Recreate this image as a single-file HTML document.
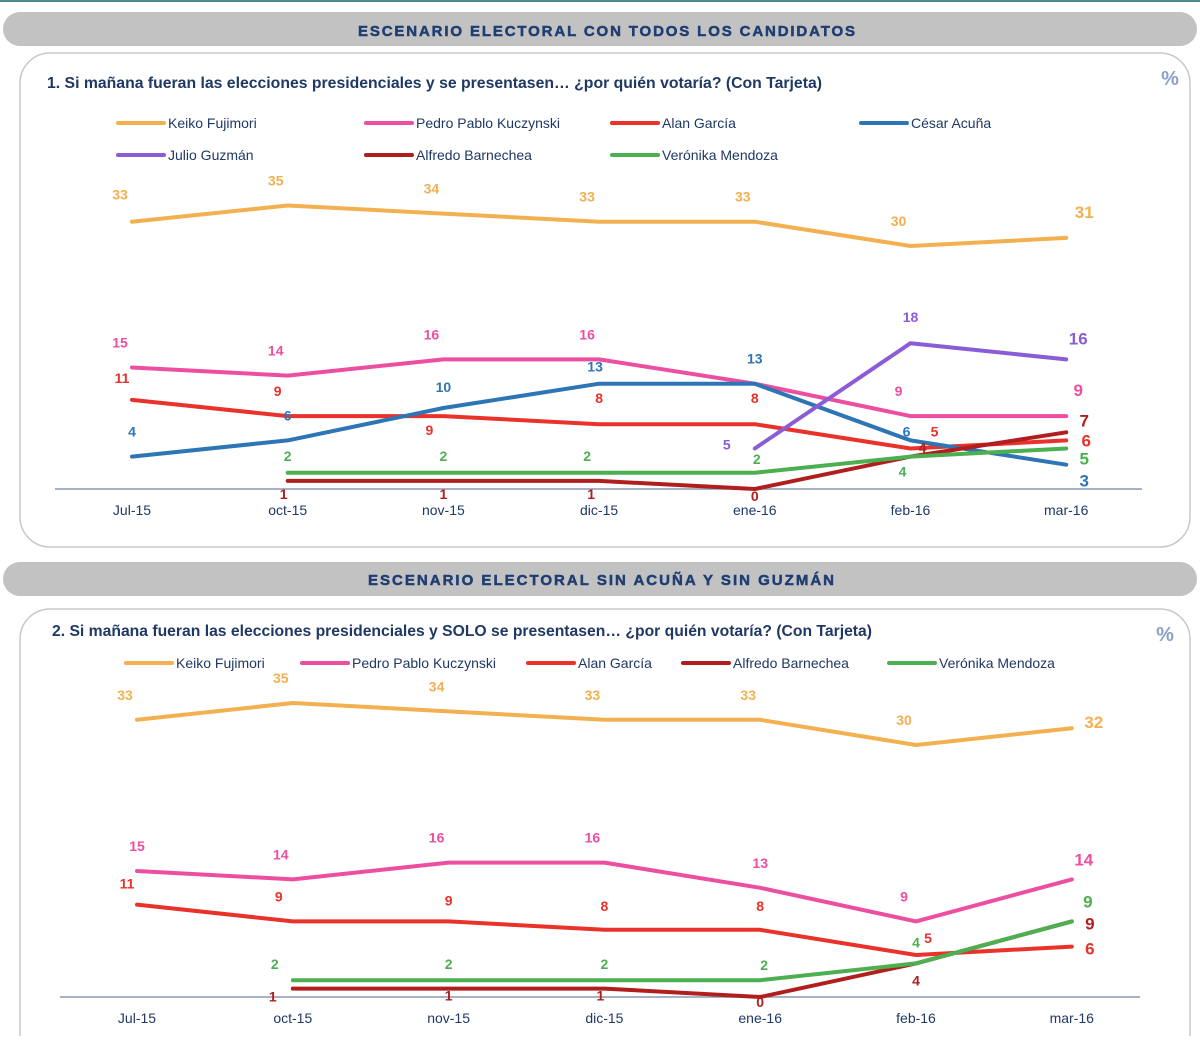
<!DOCTYPE html>
<html><head><meta charset="utf-8"><style>
body{margin:0;width:1200px;height:1036px;overflow:hidden;background:#fff;font-family:"Liberation Sans",sans-serif}
</style></head><body>
<svg width="1200" height="1036" xmlns="http://www.w3.org/2000/svg" font-family="Liberation Sans, sans-serif">
<rect x="0" y="0" width="1200" height="2" fill="#4a8a8a"/>
<rect x="3" y="12" width="1194" height="34" rx="17" fill="#c2c2c2"/>
<text x="358" y="36" textLength="497" lengthAdjust="spacing" font-size="15" font-weight="900" fill="#1f3e72" stroke="#1f3e72" stroke-width="0.5">ESCENARIO ELECTORAL CON TODOS LOS CANDIDATOS</text>
<rect x="20" y="53" width="1170" height="494" rx="30" fill="#fff" stroke="#c8c8c8" stroke-width="1.5"/>
<text x="47" y="88" textLength="775" lengthAdjust="spacingAndGlyphs" font-size="16" font-weight="bold" fill="#1f3864">1. Si mañana fueran las elecciones presidenciales y se presentasen… ¿por quién votaría? (Con Tarjeta)</text>
<text x="1170" y="85" text-anchor="middle" font-size="20" font-weight="bold" fill="#8aa0c8">%</text>
<rect x="3" y="562" width="1194" height="34" rx="17" fill="#c2c2c2"/>
<text x="368" y="585" textLength="466" lengthAdjust="spacing" font-size="15" font-weight="900" fill="#1f3e72" stroke="#1f3e72" stroke-width="0.5">ESCENARIO ELECTORAL SIN ACUÑA Y SIN GUZMÁN</text>
<rect x="20" y="609" width="1170" height="460" rx="30" fill="#fff" stroke="#c8c8c8" stroke-width="1.5"/>
<text x="52" y="636" textLength="820" lengthAdjust="spacingAndGlyphs" font-size="16" font-weight="bold" fill="#1f3864">2. Si mañana fueran las elecciones presidenciales y SOLO se presentasen… ¿por quién votaría? (Con Tarjeta)</text>
<text x="1165" y="641" text-anchor="middle" font-size="20" font-weight="bold" fill="#8aa0c8">%</text>
<g id="c1"></g><g id="c2"></g>
</svg>
<script>
const categories = ["Jul-15","oct-15","nov-15","dic-15","ene-16","feb-16","mar-16"];
// chart 1 series (null = no data)
const c1Keiko = [33,35,34,33,33,30,31];
const c1PPK = [15,14,16,16,13,9,9];
const c1Alan = [11,9,9,8,8,5,6];
const c1Acuna = [4,6,10,13,13,6,3];
const c1Guzman = [null,null,null,null,5,18,16];
const c1Barnechea = [null,1,1,1,0,4,7];
const c1Mendoza = [null,2,2,2,2,4,5];
// chart 2 series
const c2Keiko = [33,35,34,33,33,30,32];
const c2PPK = [15,14,16,16,13,9,14];
const c2Alan = [11,9,9,8,8,5,6];
const c2Barnechea = [null,1,1,1,0,4,9];
const c2Mendoza = [null,2,2,2,2,4,9];

const NS="http://www.w3.org/2000/svg";
const COL={k:"#f2b050",p:"#ec4fa0",a:"#e8322a",c:"#2e75b6",g:"#8a5cd6",b:"#b01e1e",m:"#4caf50"};
function mk(parent,tag,attrs){const e=document.createElementNS(NS,tag);for(const k in attrs)e.setAttribute(k,attrs[k]);parent.appendChild(e);return e;}

function drawChart(gid,cfg){
  const g=document.getElementById(gid);
  const xS=i=>cfg.x0+i*cfg.dx;
  const yS=v=>cfg.base-v*cfg.k;
  const ax=mk(g,"line",{x1:cfg.ax0,x2:cfg.ax1,y1:cfg.base,y2:cfg.base,stroke:"#8a9ab0","stroke-width":1.5});
  
  
  categories.forEach((c,i)=>{
    const t=mk(g,"text",{x:xS(i),y:cfg.base+26,"text-anchor":"middle","font-size":14,fill:"#1f3864"});
    t.textContent=c;
    
    
  });
  cfg.legend.forEach(L=>{
    const ln=mk(g,"line",{x1:L.x,x2:L.x+46,y1:L.y,y2:L.y,stroke:COL[L.c],"stroke-width":4,"stroke-linecap":"round"});
    
    
    const t=mk(g,"text",{x:L.x+50,y:L.y+5,"font-size":14,fill:"#1f3864"});
    t.textContent=L.name;
    
    
  });
  cfg.series.forEach(S=>{
    const pts=[];
    S.v.forEach((v,i)=>{if(v!==null)pts.push([xS(i),yS(v),v,i]);});
    const pl=mk(g,"polyline",{points:pts.map(p=>p[0]+","+p[1]).join(" "),fill:"none",stroke:COL[S.c],"stroke-width":4,"stroke-linejoin":"round","stroke-linecap":"round"});
    
    
    pts.forEach(p=>{
      if(S.skip&&S.skip.includes(p[3]))return;
      const last=p[3]===6;
      const has=S.off&&S.off[p[3]];
      const off=has?S.off[p[3]]:(last?[24,6]:[-12,-20]);
      const t=mk(g,"text",{x:p[0]+off[0],y:p[1]+off[1],"text-anchor":"middle","font-size":last?17:14,"font-weight":"bold",fill:COL[S.c]});
      t.textContent=p[2];
      
      
    });
  });
}

drawChart("c1",{x0:132,dx:155.7,base:489,k:8.1,ax0:55,ax1:1142,
 legend:[{x:118,y:123,c:"k",name:"Keiko Fujimori"},{x:366,y:123,c:"p",name:"Pedro Pablo Kuczynski"},{x:612,y:123,c:"a",name:"Alan García"},{x:861,y:123,c:"c",name:"César Acuña"},{x:118,y:155,c:"g",name:"Julio Guzmán"},{x:366,y:155,c:"b",name:"Alfredo Barnechea"},{x:612,y:155,c:"m",name:"Verónika Mendoza"}],
 series:[
  {v:c1Keiko,c:"k",off:{0:[-12,-22],6:[18,-20]}},
  {v:c1PPK,c:"p",skip:[4],off:{6:[12,-20]}},
  {v:c1Alan,c:"a",off:{0:[-10,-17],1:[-10,-20],2:[-14,19],3:[0,-21],4:[0,-21],5:[24,-12],6:[20,6]}},
  {v:c1Acuna,c:"c",off:{0:[0,-20],1:[0,-20],2:[0,-16],3:[-4,-12],4:[0,-20],5:[-4,-4],6:[18,22]}},
  {v:c1Guzman,c:"g",off:{4:[-28,1],5:[0,-21],6:[12,-15]}},
  {v:c1Barnechea,c:"b",off:{1:[-4,18],2:[0,18],3:[-8,18],4:[0,12],5:[12,-4],6:[18,-6]}},
  {v:c1Mendoza,c:"m",off:{1:[0,-12],2:[0,-12],3:[-12,-12],4:[2,-9],5:[-8,20],6:[18,16]}}
 ]});

drawChart("c2",{x0:137,dx:155.8,base:997,k:8.4,ax0:60,ax1:1140,
 legend:[{x:126,y:663,c:"k",name:"Keiko Fujimori"},{x:302,y:663,c:"p",name:"Pedro Pablo Kuczynski"},{x:528,y:663,c:"a",name:"Alan García"},{x:683,y:663,c:"b",name:"Alfredo Barnechea"},{x:889,y:663,c:"m",name:"Verónika Mendoza"}],
 series:[
  {v:c2Keiko,c:"k",off:{0:[-12,-20],6:[22,0]}},
  {v:c2PPK,c:"p",off:{0:[0,-20],4:[0,-20],6:[12,-14]}},
  {v:c2Alan,c:"a",off:{0:[-10,-16],1:[-14,-20],2:[0,-16],3:[0,-19],4:[0,-19],5:[12,-12],6:[18,8]}},
  {v:c2Barnechea,c:"b",off:{1:[-20,13],2:[0,12],3:[-4,12],4:[0,10],5:[0,22],6:[18,8]}},
  {v:c2Mendoza,c:"m",off:{1:[-18,-11],2:[0,-11],3:[0,-11],4:[4,-10],5:[0,-16],6:[16,-14]}}
 ]});
</script>
</body></html>
